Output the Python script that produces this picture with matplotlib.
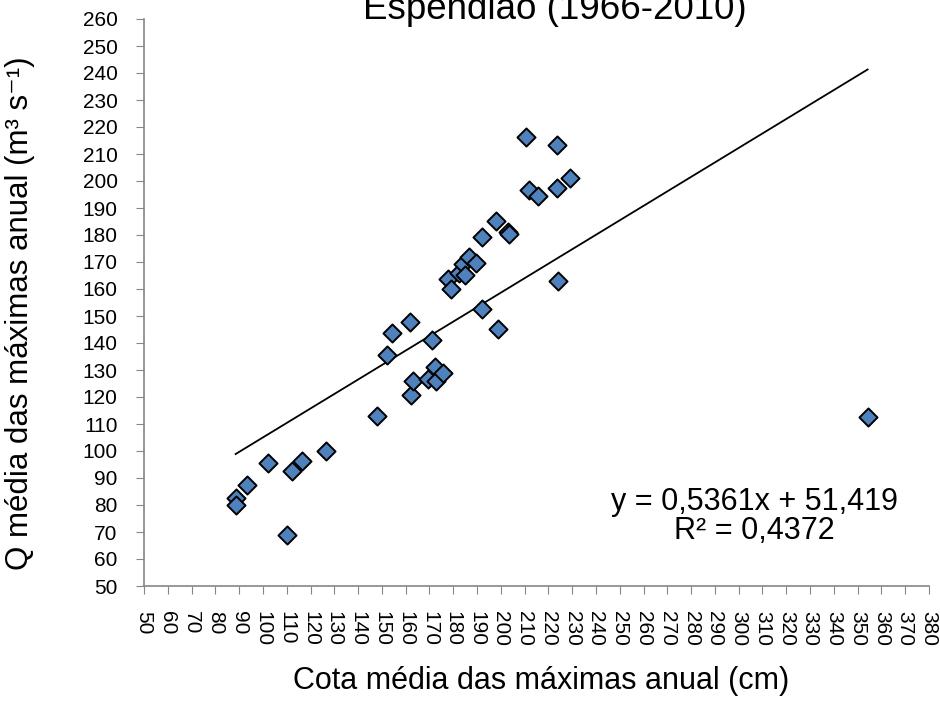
import numpy as np
import matplotlib
matplotlib.use("Agg")
import matplotlib.pyplot as plt

plt.rcParams['font.family'] = ['Liberation Sans', 'DejaVu Sans']

# cota media das maximas anual (cm)
cota = [88.5, 88.5, 93.3, 102.3, 110.0, 112.3, 116.4, 126.4, 147.8, 152.0,
        154.4, 161.9, 162.2, 163.2, 169.2, 171.2, 172.3, 172.7, 175.8, 177.9,
        179.1, 182.3, 183.9, 185.0, 186.7, 189.4, 192.0, 192.1, 197.8, 198.7,
        203.1, 203.6, 210.6, 211.8, 215.7, 223.8, 223.8, 224.1, 229.0, 354.2]
# Q media das maximas anual (m3/s)
vazao = [82.5, 80.0, 87.4, 95.4, 68.9, 92.6, 96.3, 100.1, 113.1, 135.6,
         143.8, 147.8, 120.7, 125.9, 126.7, 141.1, 131.0, 125.9, 128.8, 163.6,
         160.0, 166.0, 169.3, 165.0, 171.7, 169.5, 179.1, 152.7, 185.3, 145.1,
         181.2, 180.4, 216.2, 196.6, 194.3, 213.4, 197.3, 163.1, 201.2, 112.7]

slope = 0.5361
intercept = 51.419
r2 = 0.4372

fig = plt.figure(figsize=(9.4, 7.08), dpi=100)
ax = fig.add_axes([144/940, 1-586/708, (929-144)/940, (586-19)/708])

xl = np.array([min(cota), max(cota)])
ax.plot(xl, slope*xl + intercept, color='black', lw=1.3, zorder=2)
ax.scatter(cota, vazao, marker='D', s=85, facecolor='#4F81BD',
           edgecolor='black', linewidth=1.4, zorder=3)

ax.set_xlim(50, 380)
ax.set_ylim(50, 260)
ax.set_xticks(np.arange(50, 381, 10))
ax.set_yticks(np.arange(50, 261, 10))
ax.tick_params(axis='x', labelrotation=270, labelsize=15, color='#868686',
               length=6, direction='out', pad=12)
ax.tick_params(axis='y', labelsize=15, color='#868686', length=6,
               direction='out', pad=13)
for s in ['top', 'right']:
    ax.spines[s].set_visible(False)
for s in ['left', 'bottom']:
    ax.spines[s].set_color('#868686')
    ax.spines[s].set_linewidth(1.2)

ax.set_xlabel('Cota média das máximas anual (cm)', fontsize=22)
ax.set_ylabel('Q média das máximas anual (m³ s⁻¹)', fontsize=22.5)
ax.xaxis.set_label_coords(0.5057, -0.141)
ax.yaxis.set_label_coords(-0.139, 0.4806)

eq = 'y = 0,5361x + 51,419\nR² = 0,4372'
ax.text(0.778, 0.122, eq, transform=ax.transAxes, ha='center', va='center',
        ma='center', fontsize=22, linespacing=0.95)

# title is partly cut by the top edge, as in the original
fig.text(555/940, 1-19/708, 'Espendião (1966-2010)', ha='center',
         va='baseline', fontsize=26.5)

fig.savefig('out.png', dpi=100)
